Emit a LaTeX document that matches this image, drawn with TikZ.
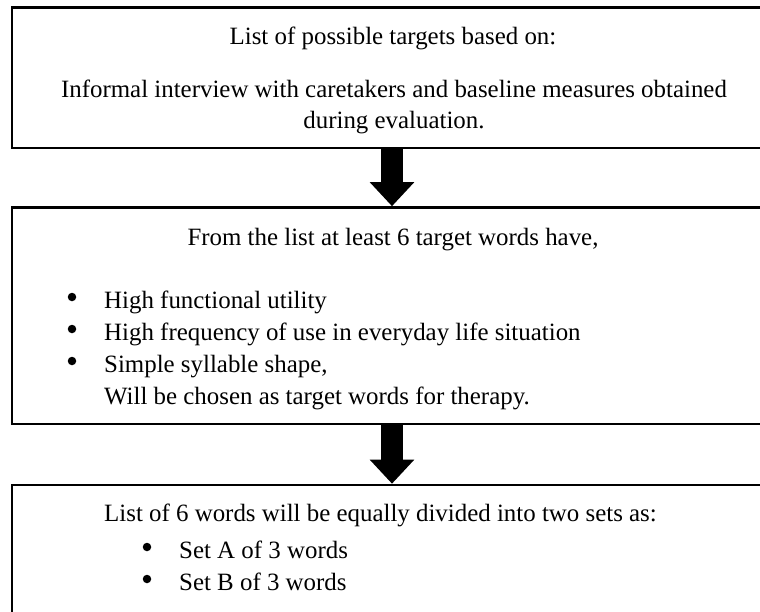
\documentclass[tikz,border=0pt]{standalone}
\usepackage{fontspec}
\setmainfont{Liberation Serif}
\usetikzlibrary{arrows.meta}

\begin{document}
\begin{tikzpicture}[x=1pt, y=-1pt, >={Triangle[width=43pt,length=24pt]}]
      \tikzset{
  stepbox/.style={
    rectangle,
    draw,
    line width=2.6pt,
    minimum width=760pt,
    inner sep=0pt
  },
  every line/.style={
    inner sep=0pt,
    anchor=base,
    font=\fontsize{24.9}{30}\selectfont
  },
  item line/.style={
    every line,
    anchor=base west
  },
  dot/.style={
    circle,
    fill,
    inner sep=0pt,
    minimum size=8.5pt
  },
  block arrow/.style={
    line width=22pt,
    ->
  }
}

\clip (0,0) rectangle (760,611);

% boxes
\node [stepbox, minimum height=140.5pt] (targets) at (392,77.75) {};
\node [stepbox, minimum height=216.5pt] (words) at (392,315.75) {};
\node [stepbox, minimum height=165pt] (sets) at (392,567.5) {};

% first box
\node [every line] (targets-1) at (393,44) {List of possible targets based on:};
\node [every line] (targets-2) at (394,97) {Informal interview with caretakers and baseline measures obtained};
\node [every line] (targets-3) at (394,128) {during evaluation.};

% second box
\node [every line] (words-0) at (393,245) {From the list at least 6 target words have,};
\foreach \t [count=\i] in {High functional utility, High frequency of use in everyday life situation, {Simple syllable shape,}}
  {
  \node [dot] (words-dot-\i) at (72,265+32*\i) {};
  \node [item line] (words-\i) at (104,276+32*\i) {\t};
  }
\node [item line] (words-4) at (104,404) {Will be chosen as target words for therapy.};

% third box
\node [item line] (sets-0) at (104,521) {List of 6 words will be equally divided into two sets as:};
\foreach \l [count=\i] in {A,B}
  {
  \node [dot] (sets-dot-\i) at (147,515+32*\i) {};
  \node [item line] (sets-\i) at (179,526+32*\i) {Set \l\ of 3 words};
  }

\draw [block arrow] (targets) -- (words);
\draw [block arrow] (words) -- (sets);
    \end{tikzpicture}
\end{document}
